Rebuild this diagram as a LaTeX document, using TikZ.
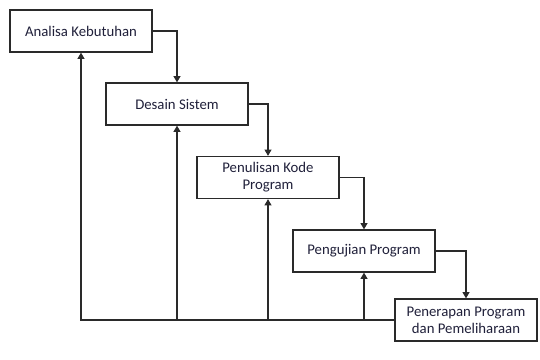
\documentclass[tikz,border=0pt]{standalone}
\usepackage{fontspec}
\setmainfont{Carlito}
\usepackage{xcolor}
\usetikzlibrary{arrows.meta, positioning}
\definecolor{wfline}{HTML}{2A2A2A}
\definecolor{wftext}{HTML}{20203A}

\begin{document}
\begin{tikzpicture}[
    x=0.025cm, y=-0.025cm,
    phasebox/.style={draw=wfline, line width=0.9pt, fill=white,
                 minimum width=3.55cm, minimum height=1.05cm,
                 align=center, text=wftext, font=\fontsize{10.5}{12}\selectfont},
    arr/.style={-{Triangle[length=4.5pt, width=5pt]}, line width=0.8pt, wfline},
]
    \useasboundingbox (0,0) rectangle (540,360);

    \node[phasebox] (b1) at (81, 31) {Analisa Kebutuhan};
    \node[phasebox] (b2) at (177, 104) {Desain Sistem};
    \node[phasebox] (b3) at (268, 177.5) {Penulisan Kode\\Program};
    \node[phasebox] (b4) at (364, 251) {Pengujian Program};
    \node[phasebox] (b5) at (466, 320) {Penerapan Program\\dan Pemeliharaan};

    % forward steps
    \draw[arr] (b1.east) -| (b2.north);
    \draw[arr] (b2.east) -| (b3.north);
    \draw[arr] (b3.east) -| (b4.north);
    \draw[arr] (b4.east) -| (b5.north);

    % feedback
    \draw[arr] (b5.west) -| (b1.south);
    \draw[arr] (b2.south |- b5.west) -- (b2.south);
    \draw[arr] (b3.south |- b5.west) -- (b3.south);
    \draw[arr] (b4.south |- b5.west) -- (b4.south);
\end{tikzpicture}
\end{document}
